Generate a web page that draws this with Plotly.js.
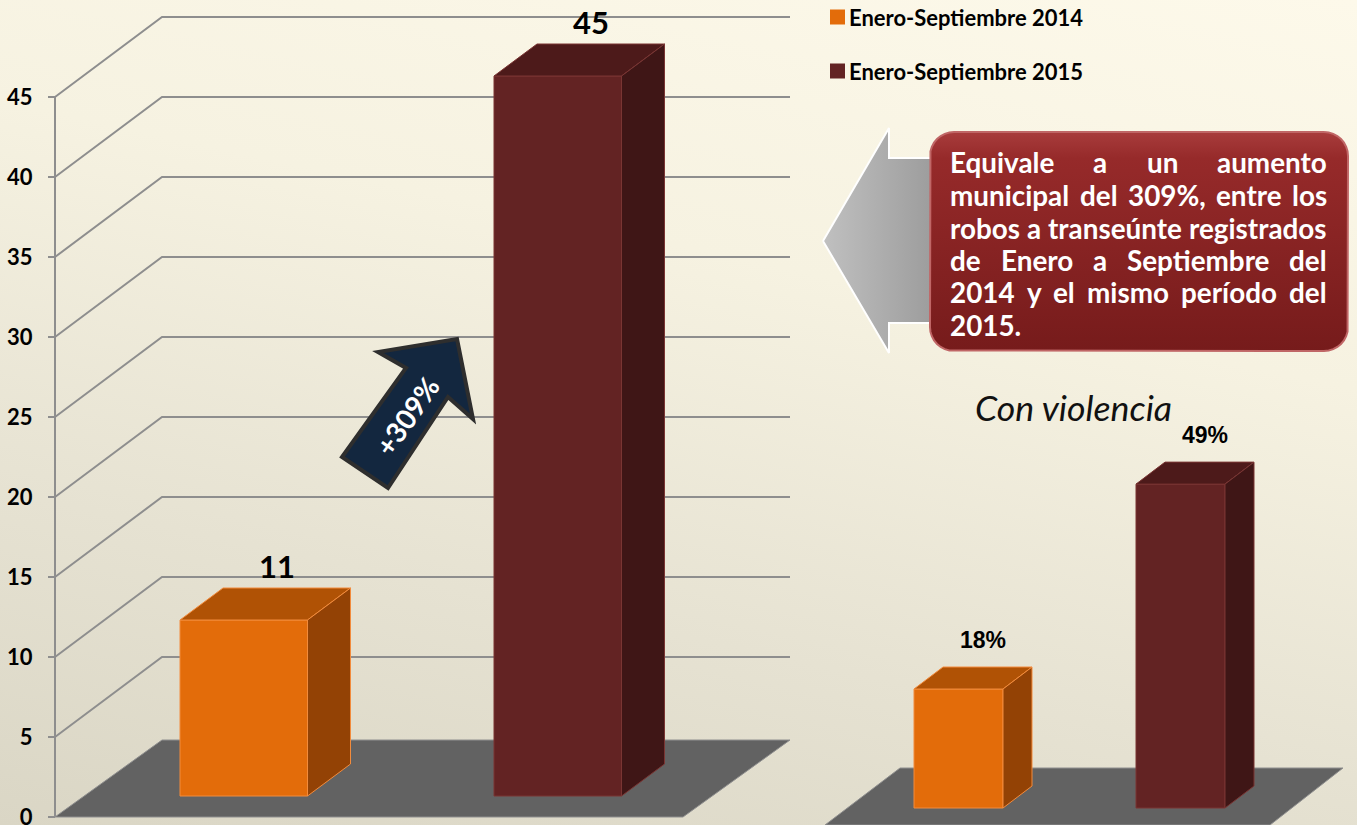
<!DOCTYPE html>
<html><head><meta charset="utf-8">
<script src="https://cdn.plot.ly/plotly-3.0.1.min.js"></script>
<style>
html,body{margin:0;padding:0;}
body{width:1357px;height:825px;overflow:hidden;background:linear-gradient(192deg,#fdf9ea 0%,#f6f2e1 35%,#e6e2d2 70%,#dad6c5 100%);}
#chart{width:1357px;height:825px;}
</style></head><body><div id="chart"></div>
<script>
// ---------------- data ----------------
const categories = ['Enero-Septiembre 2014', 'Enero-Septiembre 2015'];
const robosTotal = [11, 45];
const robosTotalLabels = ['11', '45'];
const conViolenciaPct = [18, 49];
const conViolenciaLabels = ['18%', '49%'];
const yTickVals = [0, 5, 10, 15, 20, 25, 30, 35, 40, 45];
const yTickText = ['0', '5', '10', '15', '20', '25', '30', '35', '40', '45'];
const cambioLabel = '+309%';
const subtituloDerecha = 'Con violencia';
const notaLineas = [
  'Equivale a un aumento',
  'municipal del 309%, entre los',
  'robos a transeúnte registrados',
  'de Enero a Septiembre del',
  '2014 y el mismo período del',
  '2015.'
];

// ---------------- styling / geometry ----------------
const W = 1357, H = 825;
const COL = {
  front: ['#e36c0a', '#632323'],
  top:   ['#b05205', '#4d1a1a'],
  side:  ['#934205', '#3f1616'],
  edge:  ['#f28b3c', '#7a3533']
};
const L = {x0: [180, 494], w: 127.5, base: 1.3125, dx: 43, dyPx: 32, px: 16, zeroPx: 817};
const R = {x0: [914, 1136], w: 89, base: 0, dx: 29, dyPx: 22, px: 6.61, zeroPx: 808};
L.dy = L.dyPx / L.px; R.dy = R.dyPx / R.px;

const fx = x => x / W, fy = y => 1 - y / H;
const cv = document.createElement('canvas').getContext('2d');
function tw(text, font) { cv.font = font; return cv.measureText(text).width; }
function fit(text, prefix, family, target) { return 100 * target / tw(text, prefix + ' 100px ' + family); }

const traces = [];
const shapes = [];
const annotations = [];

// ---------- 3D bars ----------
function addBars(G, vals, yaxis, labels, labelFont, labelDx, labelShift) {
  traces.push({
    type: 'bar', x: G.x0.map(x => x + G.w / 2), y: vals, base: G.base, width: G.w,
    marker: {color: COL.front, line: {color: COL.edge, width: 1}},
    xaxis: 'x', yaxis: yaxis, hoverinfo: 'skip', showlegend: false
  });
  vals.forEach((v, i) => {
    const x0 = G.x0[i], x1 = x0 + G.w, t = G.base + v, b = G.base;
    traces.push({type: 'scatter', mode: 'lines', fill: 'toself', xaxis: 'x', yaxis: yaxis,
      x: [x0, x0 + G.dx, x1 + G.dx, x1, x0], y: [t, t + G.dy, t + G.dy, t, t],
      fillcolor: COL.top[i], line: {color: COL.edge[i], width: 1}, hoverinfo: 'skip', showlegend: false});
    traces.push({type: 'scatter', mode: 'lines', fill: 'toself', xaxis: 'x', yaxis: yaxis,
      x: [x1, x1 + G.dx, x1 + G.dx, x1, x1], y: [b, b + G.dy, t + G.dy, t, b],
      fillcolor: COL.side[i], line: {color: COL.edge[i], width: 1}, hoverinfo: 'skip', showlegend: false});
    annotations.push({xref: 'x', yref: yaxis, x: x0 + G.w / 2 + labelDx, y: t + G.dy, yshift: labelShift,
      text: labels[i], showarrow: false, xanchor: 'center', yanchor: 'middle', font: labelFont});
  });
}
addBars(L, robosTotal, 'y', robosTotalLabels, {family: 'Lato', size: 31, color: '#000', weight: 'bold'}, 33, 22);
addBars(R, conViolenciaPct, 'y2', conViolenciaLabels, {family: 'Liberation Sans', size: 23, color: '#000', weight: 'bold'}, 24, 27);

// ---------- floor, gridlines, axis line (below) ----------
function pathPx(pts, close) {
  return pts.map((p, k) => (k ? 'L' : 'M') + fx(p[0]).toFixed(5) + ',' + fy(p[1]).toFixed(5)).join(' ') + (close ? ' Z' : '');
}
shapes.push({type: 'path', xref: 'paper', yref: 'paper', layer: 'below',
  path: pathPx([[55, 817], [162, 740], [790, 740], [683, 817]], true),
  fillcolor: '#626262', line: {color: '#8f8f8f', width: 1}});
shapes.push({type: 'path', xref: 'paper', yref: 'paper', layer: 'below',
  path: pathPx([[825, 825], [900, 768], [1343, 768], [1270, 825]], true),
  fillcolor: '#626262', line: {color: '#8f8f8f', width: 1}});
yTickVals.filter(v => v > 0).forEach(v => {
  const yp = L.zeroPx - L.px * v;
  shapes.push({type: 'path', xref: 'paper', yref: 'paper', layer: 'below',
    path: pathPx([[55, yp], [162, yp - 80], [790, yp - 80]], false),
    line: {color: '#8e8e8e', width: 2}});
});
shapes.push({type: 'line', xref: 'paper', yref: 'paper', layer: 'below',
  x0: fx(55), x1: fx(55), y0: fy(L.zeroPx), y1: fy(L.zeroPx - L.px * yTickVals[yTickVals.length - 1]),
  line: {color: '#8e8e8e', width: 2}});

// ---------- navy arrow with +309% ----------
shapes.push({type: 'path', xref: 'paper', yref: 'paper', layer: 'above',
  path: pathPx([[457, 339], [473, 419], [448, 397], [388, 488], [342, 457], [406, 368], [378, 352]], true),
  fillcolor: '#13273f', line: {color: '#2e2e2e', width: 4}});
annotations.push({xref: 'paper', yref: 'paper', x: fx(407), y: fy(416), text: cambioLabel, textangle: -55,
  showarrow: false, xanchor: 'center', yanchor: 'middle',
  font: {family: 'Lato', size: fit(cambioLabel, 'bold', 'Lato', 88), color: '#ffffff', weight: 'bold'}});

// ---------- legend (2014 / 2015) ----------
const legFont = fit(categories[0], 'bold', 'Lato', 234);
[17, 71].forEach((yc, i) => {
  shapes.push({type: 'rect', xref: 'paper', yref: 'paper', layer: 'above',
    x0: fx(830), x1: fx(845), y0: fy(yc - 7.5), y1: fy(yc + 7.5), fillcolor: COL.front[i], line: {width: 0}});
  annotations.push({xref: 'paper', yref: 'paper', x: fx(849), y: fy(yc), text: categories[i], showarrow: false,
    xanchor: 'left', yanchor: 'middle', borderpad: 0, borderwidth: 0,
    font: {family: 'Lato', size: legFont, color: '#000', weight: 'bold'}});
});

// ---------- right subtitle ----------
annotations.push({xref: 'paper', yref: 'paper', x: fx(1073), y: fy(407), text: subtituloDerecha, showarrow: false,
  xanchor: 'center', yanchor: 'middle',
  font: {family: 'Lato', size: fit(subtituloDerecha, 'italic', 'Lato', 198), color: '#111', style: 'italic'}});

// ---------- grey arrow + red callout box (on pixel axis y3) ----------
traces.push({type: 'scatter', mode: 'lines', fill: 'toself', xaxis: 'x', yaxis: 'y3',
  x: [823, 889, 889, 940, 940, 889, 889, 823], y: [241, 128, 158, 158, 323, 323, 353, 241],
  fillcolor: '#ababab', fillgradient: {type: 'horizontal', start: 823, stop: 935, colorscale: [[0, '#c0c0c0'], [1, '#9c9c9c']]},
  line: {color: '#ffffff', width: 2}, hoverinfo: 'skip', showlegend: false});
function roundRect(x0, y0, x1, y1, r) {
  const xs = [], ys = [];
  const arc = (cx, cy, a0, a1) => { for (let k = 0; k <= 8; k++) { const a = a0 + (a1 - a0) * k / 8; xs.push(cx + r * Math.cos(a)); ys.push(cy + r * Math.sin(a)); } };
  arc(x1 - r, y0 + r, -Math.PI / 2, 0); arc(x1 - r, y1 - r, 0, Math.PI / 2);
  arc(x0 + r, y1 - r, Math.PI / 2, Math.PI); arc(x0 + r, y0 + r, Math.PI, 1.5 * Math.PI);
  xs.push(xs[0]); ys.push(ys[0]);
  return {xs, ys};
}
const box = roundRect(930, 132, 1348, 351, 24);
traces.push({type: 'scatter', mode: 'lines', fill: 'toself', xaxis: 'x', yaxis: 'y3', x: box.xs, y: box.ys,
  fillcolor: '#8a2424', fillgradient: {type: 'vertical', start: 132, stop: 351, colorscale: [[0, '#a83c3c'], [0.12, '#962a2a'], [1, '#761b1b']]},
  line: {color: '#c06666', width: 2}, hoverinfo: 'skip', showlegend: false});

// justified white text
const noteSize = fit(notaLineas[2], 'bold', 'Lato', 376);
const noteFontStr = 'bold ' + noteSize + 'px Lato';
const TL = 950, TR = 1327;
const lineY = [163, 195.5, 228, 260, 292.5, 325];
notaLineas.forEach((line, li) => {
  const words = line.split(' ');
  const ws = words.map(w => tw(w, noteFontStr));
  const last = li === notaLineas.length - 1 || words.length === 1;
  const sum = ws.reduce((a, b) => a + b, 0);
  const gap = last ? tw(' ', noteFontStr) : (TR - TL - sum) / (words.length - 1);
  let x = TL;
  words.forEach((w, k) => {
    annotations.push({xref: 'paper', yref: 'paper', x: fx(x), y: fy(lineY[li]), text: w, showarrow: false,
      xanchor: 'left', yanchor: 'middle', borderpad: 0, borderwidth: 0,
      font: {family: 'Lato', size: noteSize, color: '#ffffff', weight: 'bold'}});
    x += ws[k] + gap;
  });
});

const layout = {
  width: W, height: H, margin: {l: 0, r: 0, t: 0, b: 0},
  paper_bgcolor: 'rgba(0,0,0,0)', plot_bgcolor: 'rgba(0,0,0,0)',
  showlegend: false, barmode: 'overlay',
  xaxis: {range: [0, W], domain: [0, 1], visible: false, fixedrange: true},
  yaxis: {range: [(L.zeroPx - H) / L.px, L.zeroPx / L.px], anchor: 'free', position: 55 / W,
    tickmode: 'array', tickvals: yTickVals, ticktext: yTickText,
    ticks: 'outside', ticklen: 7, tickwidth: 2, tickcolor: '#8e8e8e', ticklabelstandoff: 11,
    ticklabeloverflow: 'allow',
    showgrid: false, zeroline: false, showline: false,
    tickfont: {family: 'Lato', size: 22, color: '#000', weight: 'bold'}},
  yaxis2: {overlaying: 'y', range: [(R.zeroPx - H) / R.px, R.zeroPx / R.px], visible: false},
  yaxis3: {overlaying: 'y', range: [H, 0], visible: false},
  shapes: shapes, annotations: annotations
};
Plotly.newPlot('chart', traces, layout, {staticPlot: true, displayModeBar: false});
</script></body></html>
